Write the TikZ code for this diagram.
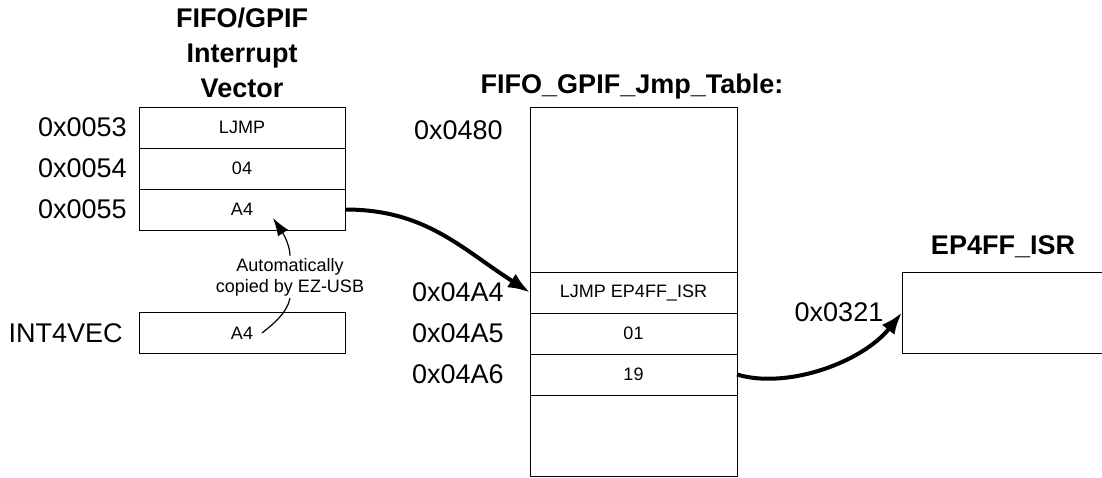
\documentclass[tikz,border=0pt]{standalone}
\usepackage{fontspec}
\setmainfont{Liberation Sans}
\usetikzlibrary{arrows.meta, positioning}

\begin{document}
\begin{tikzpicture}[x=0.5pt, y=-0.5pt,
    cell/.style={draw, line width=0.5pt, minimum width=103pt, minimum height=20.5pt, inner sep=0pt, outer sep=0pt, font=\fontsize{9}{11}\selectfont},
    addr/.style={inner sep=0pt, font=\fontsize{13.5}{16}\selectfont},
    heading/.style={align=center, font=\fontsize{13.5}{17.5}\selectfont\bfseries},
    note/.style={align=center, inner sep=1pt, font=\fontsize{9}{10.5}\selectfont},
    jump/.style={line width=2pt, -{Latex[length=11pt, width=8pt]}},
    thinarrow/.style={line width=0.6pt, -{Latex[length=9pt, width=6pt]}}]
  \useasboundingbox (0,0) rectangle (1102,477);

  % Interrupt vector
  \node[heading] (vtitle) at (242,53) {FIFO/GPIF\\Interrupt\\Vector};
  \node[cell] (v53) at (242,127.5) {LJMP};
  \node[cell, below=0pt of v53] (v54) {04};
  \node[cell, below=0pt of v54] (v55) {A4};
  \node[addr, left=6pt of v53] (a53) {0x0053};
  \node[addr, left=6pt of v54] (a54) {0x0054};
  \node[addr, left=6pt of v55] (a55) {0x0055};

  % INT4VEC
  \node[cell] (int4) at (242,333) {A4};
  \node[addr, left=8pt of int4] (aint4) {INT4VEC};

  % auto copy note
  \node[note] (auto) at (290,277) {Automatically\\copied by EZ-USB};
  \coordinate (tipA) at (273,218);
  \coordinate (endA) at (262,333);
  \draw[thinarrow] (auto.north) .. controls +(0,-12) and +(8,12) .. (tipA);
  \draw[line width=0.6pt] (auto.south) .. controls +(-3,15) and +(10,-8) .. (endA);

  % Jump table
  \node[heading] (jtitle) at (632,87) {FIFO\_GPIF\_Jmp\_Table:};
  \node[cell, minimum width=103.5pt, minimum height=82.5pt] (jtop) at (633.5,189.5) {};
  \node[cell, minimum width=103.5pt, below=0pt of jtop] (j4) {LJMP EP4FF\_ISR};
  \node[cell, minimum width=103.5pt, below=0pt of j4] (j5) {01};
  \node[cell, minimum width=103.5pt, below=0pt of j5] (j6) {19};
  \node[cell, minimum width=103.5pt, minimum height=40.5pt, below=0pt of j6] (jbot) {};
  \node[addr, anchor=east] (a480) at (503,130) {0x0480};
  \node[addr, left=13pt of j4] (a4a4) {0x04A4};
  \node[addr, left=13pt of j5] (a4a5) {0x04A5};
  \node[addr, left=13pt of j6] (a4a6) {0x04A6};

  % ISR
  \node[heading] (isrtitle) at (1003,247) {EP4FF\_ISR};
  \node[cell, minimum width=102pt, minimum height=40.5pt] (isr) at (1004,312.5) {};
  \node[addr] (a321) at (839,312) {0x0321};

  % jumps
  \draw[jump] (v55.east) .. controls +(80,0) and +(-70,-45) .. (j4.west);
  \draw[jump] (j6.east) .. controls +(50,15) and +(-40,50) .. (isr.west);
\end{tikzpicture}
\end{document}
